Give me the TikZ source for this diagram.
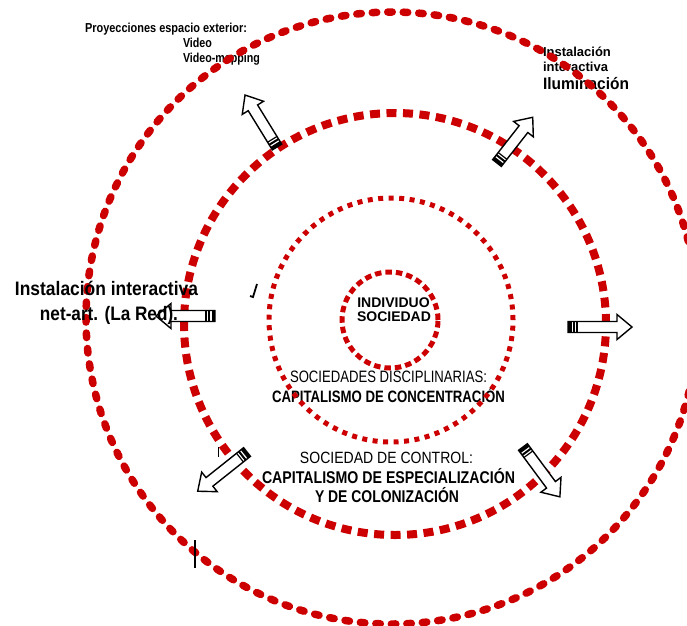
\documentclass[tikz,border=0pt]{standalone}
\usepackage{fontspec}
\usepackage{graphicx}
\setmainfont{Liberation Sans}
\definecolor{ringred}{RGB}{204,0,0}
% squeeze a line of text to a given width, keeping its height
\newcommand\fitto[2]{\resizebox{#1}{\height}{#2}}
\newcommand\fsz[1]{\fontsize{#1pt}{#1pt}\selectfont}

\tikzset{
  ringouter/.style={draw=ringred, line width=7.5pt, line cap=round, dash pattern=on 4.5pt off 11pt},
  ringmid/.style={draw=ringred, line width=8pt, dash pattern=on 10pt off 6.5pt},
  ringdisc/.style={draw=ringred, line width=5pt, dash pattern=on 5pt off 5.5pt},
  ringcore/.style={draw=ringred, line width=5pt, dash pattern=on 6.5pt off 4pt},
  arrowbody/.style={draw=black, fill=white, line width=1.4pt, line join=miter},
  txt/.style={inner sep=0pt, outer sep=0pt},
  penmark/.style={draw=black, line width=1.3pt},
  % hollow block arrow of length #1, tail (with striped cap) at the origin
  pics/blockarrow/.style={code={
    \path[arrowbody] (0,-5.5) -- (#1-15,-5.5) -- (#1-15,-12.5) -- (#1,0)
        -- (#1-15,12.5) -- (#1-15,5.5) -- (0,5.5) -- cycle;
    \fill (0,-5.5) rectangle (3.5,5.5);
    \fill (5,-5.5) rectangle (7,5.5);
    \draw[line width=1.2pt] (9,-5.5) -- (9,5.5);
  }}
}

\begin{document}
\begin{tikzpicture}[x=1pt,y=-1pt]
\useasboundingbox (0,0) rectangle (687,625);

% labels lying under the rings
\node[txt, anchor=base west] (proy) at (85,32)
  {\fitto{162pt}{\bfseries\fsz{13}Proyecciones espacio exterior:}};
\node[txt, anchor=base west] (video) at (183,47)
  {\fitto{29pt}{\bfseries\fsz{13}Video}};
\node[txt, anchor=base west] (vmap) at (183,62)
  {\fitto{77pt}{\bfseries\fsz{13}Video-mapping}};
\node[txt, anchor=base west] (instA) at (543,56) {\bfseries\fsz{13}Instalación};
\node[txt, anchor=base west] (instB) at (543,71) {\bfseries\fsz{13}interactiva};
\node[txt, anchor=base west] (ilum) at (543,89)
  {\fitto{86pt}{\bfseries\fsz{16.5}Iluminación}};

\node[txt, anchor=base] (indiv) at (393.5,307) {\bfseries\fsz{14}INDIVIDUO};
\node[txt, anchor=base] (socied) at (394,321) {\bfseries\fsz{14}SOCIEDAD};
\node[txt, anchor=base] (discA) at (388.5,382)
  {\fitto{197pt}{\fsz{16.5}SOCIEDADES DISCIPLINARIAS:}};
\node[txt, anchor=base] (discB) at (388.5,402)
  {\fitto{233pt}{\bfseries\fsz{16.5}CAPITALISMO DE CONCENTRACIÓN}};
\node[txt, anchor=base] (ctrlA) at (386.5,463)
  {\fitto{173pt}{\fsz{16.3}SOCIEDAD DE CONTROL:}};
\node[txt, anchor=base] (ctrlB) at (388.5,483)
  {\fitto{253pt}{\bfseries\fsz{17}CAPITALISMO DE ESPECIALIZACIÓN}};
\node[txt, anchor=base] (ctrlC) at (387,502)
  {\fitto{144pt}{\bfseries\fsz{17}Y DE COLONIZACIÓN}};

% concentric rings
\path[ringouter] (392,318) circle[radius=306pt];
\path[ringmid]   (395,324) circle[radius=211pt];
\path[ringdisc]  (391,320) circle[radius=122pt];
\path[ringcore]  (390,320) circle[radius=48pt];

% outward block arrows
\coordinate (tailNW) at (277,147);
\coordinate (tailNE) at (497,163);
\coordinate (tailW)  at (215,316);
\coordinate (tailE)  at (568,327);
\coordinate (tailSW) at (247,452);
\coordinate (tailSE) at (523,447);
\pic[rotate=121.6] at (tailNW) {blockarrow=61};
\pic[rotate=52]    at (tailNE) {blockarrow=58};
\pic[rotate=180]   at (tailW)  {blockarrow=59};
\pic[rotate=0]     at (tailE)  {blockarrow=64};
\pic[rotate=218.5] at (tailSW) {blockarrow=63};
\pic[rotate=-53.5] at (tailSE) {blockarrow=62};

% label over the left arrow
\node[txt, anchor=base] (netA) at (106.5,295)
  {\fitto{183pt}{\bfseries\fsz{19.5}Instalación interactiva}};
\node[txt, anchor=base] (netB) at (109,320)
  {\fitto{138pt}{\bfseries\fsz{19.5}net-art. (La Red).}};

% stray pen marks
\draw[penmark, line width=1.8pt] (257,284) -- (253,297) -- (250,296);
\draw[penmark, line width=1pt] (218,447) -- (218,457);
\draw[penmark, line width=1.5pt] (195,540) -- (195,568);
\end{tikzpicture}
\end{document}
